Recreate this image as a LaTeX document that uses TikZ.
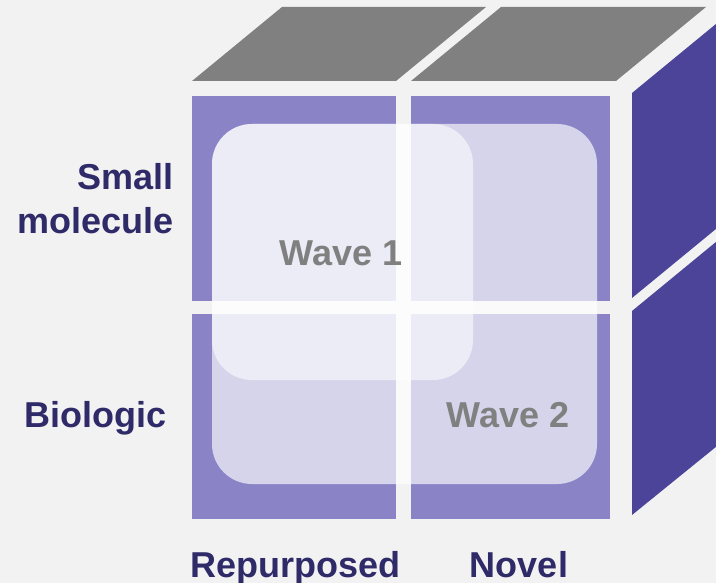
\documentclass[tikz,border=0pt]{standalone}
\usepackage{fontspec}
\setmainfont{Liberation Sans}
\definecolor{bg}{HTML}{F2F2F2}
\definecolor{frontc}{HTML}{8A84C7}
\definecolor{sidec}{HTML}{4B4499}
\definecolor{topc}{HTML}{808080}
\definecolor{labc}{HTML}{2F2A68}
\definecolor{wavet}{HTML}{808080}
\tikzset{
  face/.style={fill=frontc, draw=none},
  sideface/.style={fill=sidec, draw=none},
  topface/.style={fill=topc, draw=none},
  wavebox/.style={fill=white, draw=none, rounded corners=40pt},
  lab/.style={font=\fontsize{36}{44}\selectfont\bfseries, text=labc, inner sep=0pt},
  wavelab/.style={font=\fontsize{36}{44}\selectfont\bfseries, text=wavet, inner sep=0pt}
}
\begin{document}
\begin{tikzpicture}[x=1pt,y=-1pt]
\useasboundingbox (0,0) rectangle (716,583);
\clip (0,0) rectangle (716,583);
\fill[bg] (0,0) rectangle (716,583);
% top faces
\path[topface] (192,81) -- (396,81) -- (486,7) -- (282,7) -- cycle;
\path[topface] (411,81) -- (616,81) -- (706,7) -- (501,7) -- cycle;
% right faces
\path[sideface] (632,93) -- (722,19) -- (722,224) -- (632,298) -- cycle;
\path[sideface] (632,311) -- (722,237) -- (722,442) -- (632,515) -- cycle;
% front faces
\path[face] (192,96) rectangle (396,301);
\path[face] (411,96) rectangle (610,301);
\path[face] (192,314) rectangle (396,519);
\path[face] (411,314) rectangle (610,519);
% waves
\path[wavebox, fill opacity=0.65] (212,124) rectangle (597,484);
\path[wavebox, fill opacity=0.56] (212,124) rectangle (473,380);
\node[wavelab, anchor=base] (w1) at (341,265.7) {Wave 1};
\node[wavelab, anchor=base] (w2) at (508,427.7) {Wave 2};
% labels
\node[lab, anchor=north east, align=right] (sm) at (174,163) {Small\\molecule};
\node[lab, anchor=base east] (bio) at (167,427.3) {Biologic};
\node[lab, anchor=base] (rep) at (295.5,577.7) {Repurposed};
\node[lab, anchor=base] (nov) at (519,577.7) {Novel};
\end{tikzpicture}
\end{document}
